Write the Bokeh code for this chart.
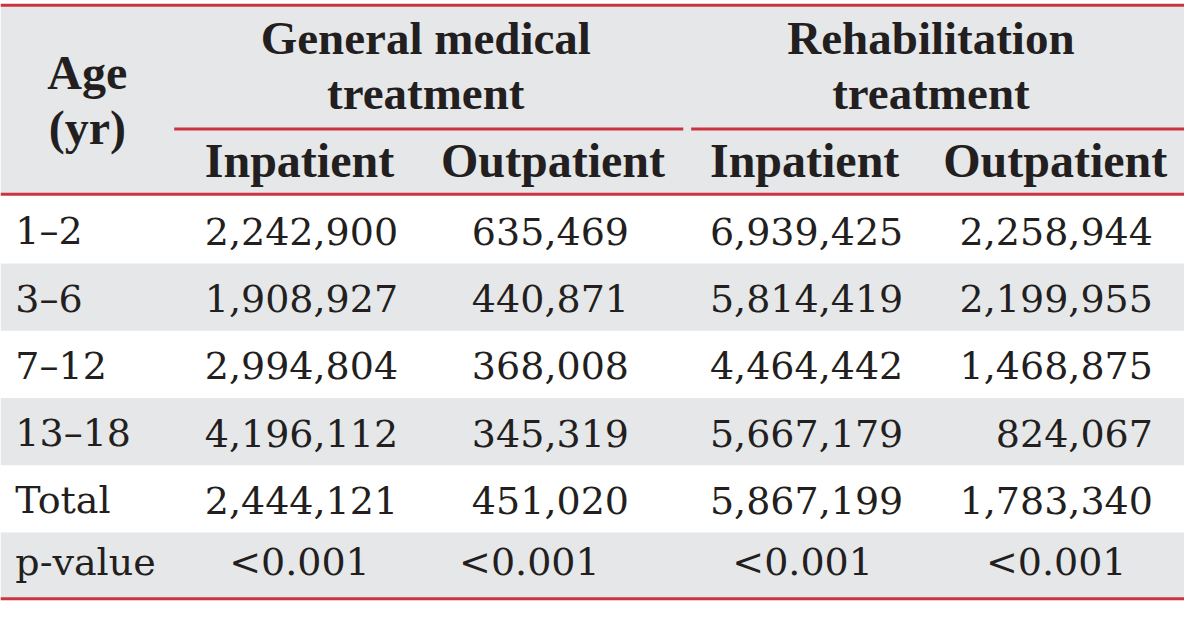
from bokeh.plotting import figure
from bokeh.models import Range1d
from bokeh.embed import file_html
from bokeh.resources import INLINE
from bokeh.core.properties import value

# ---------------- data ----------------
age_groups = ["1–2", "3–6", "7–12", "13–18", "Total"]
general_inpatient = [2242900, 1908927, 2994804, 4196112, 2444121]
general_outpatient = [635469, 440871, 368008, 345319, 451020]
rehab_inpatient = [6939425, 5814419, 4464442, 5667179, 5867199]
rehab_outpatient = [2258944, 2199955, 1468875, 824067, 1783340]
p_label = "p-value"
p_values = ["<0.001", "<0.001", "<0.001", "<0.001"]
stub_header = ["Age", "(yr)"]
group_headers = [["General medical", "treatment"], ["Rehabilitation", "treatment"]]
sub_headers = ["Inpatient", "Outpatient", "Inpatient", "Outpatient"]

# ---------------- layout ----------------
W, H = 1200, 620
RED = "#cc3340"
GRAY = "#e6e7e9"
INK = "#231f20"
BODY_FONT = value("DejaVu Serif")
HEAD_FONT = value("Liberation Serif")
DATA_SIZE = "38px"
HEAD_SIZE = "48px"
GROUP_SIZE = "47px"

col_right = [403, 637, 915, 1168]
col_center = [303, 536, 813, 1070]
head_center = [303, 560, 815, 1069]
group_span = [(176, 692), (700, W)]
group_center = [431, 943]
row_top0, row_h = 201, 69
header_top, header_bottom = 6, 199

p = figure(width=1184, height=604, x_range=Range1d(0, W), y_range=Range1d(H, 0),
           output_backend="svg", toolbar_location=None, min_border=0,
           x_axis_location=None, y_axis_location=None)
p.grid.visible = False
p.outline_line_color = None
p.background_fill_color = "white"
p.border_fill_color = "white"

# header background
p.quad(left=[0], right=[W], top=[header_top], bottom=[header_bottom],
       fill_color=GRAY, line_color=None)

# body rows
n_rows = len(age_groups) + 1
tops = [row_top0 + i * row_h for i in range(n_rows)]
gray_rows = [i for i in range(n_rows) if i % 2 == 1]
p.quad(left=[0] * len(gray_rows), right=[W] * len(gray_rows),
       top=[tops[i] for i in gray_rows], bottom=[tops[i] + row_h for i in gray_rows],
       fill_color=GRAY, line_color=None)

# rules
p.segment(x0=[0, 0, 0], x1=[W, W, W], y0=[5, header_bottom, 614], y1=[5, header_bottom, 614],
          line_color=RED, line_width=3)
p.segment(x0=[g[0] for g in group_span], x1=[g[1] for g in group_span],
          y0=[132, 132], y1=[132, 132], line_color=RED, line_width=3)

common_head = dict(text_font=HEAD_FONT, text_font_style="bold",
                   text_align="center", text_baseline="middle", text_color=INK)
common_body = dict(text_font=BODY_FONT, text_font_size=DATA_SIZE,
                   text_baseline="middle", text_color=INK)

# header text
p.text(x=[88, 88], y=[74, 130], text=stub_header, text_font_size=HEAD_SIZE, **common_head)
gx, gy, gt = [], [], []
for cx, lines in zip(group_center, group_headers):
    for k, line in enumerate(lines):
        gx.append(cx)
        gy.append(38 + 57 * k)
        gt.append(line)
p.text(x=gx, y=gy, text=gt, text_font_size=GROUP_SIZE, **common_head)
p.text(x=head_center, y=[164] * 4, text=sub_headers, text_font_size=HEAD_SIZE, **common_head)

# body text
centers = [t + 36 for t in tops[:-1]] + [tops[-1] + 30]
p.text(x=[15] * n_rows, y=centers, text=age_groups + [p_label], text_align="left", **common_body)
cols = [general_inpatient, general_outpatient, rehab_inpatient, rehab_outpatient]
nx, ny, nt = [], [], []
for c, vals in enumerate(cols):
    for r, v in enumerate(vals):
        nx.append(col_right[c])
        ny.append(centers[r])
        nt.append(f"{v:,}")
p.text(x=nx, y=ny, text=nt, text_align="right", **common_body)
p.text(x=col_center, y=[centers[-1]] * 4, text=p_values, text_align="center", **common_body)

open("out.html", "w").write(file_html(p, INLINE))
